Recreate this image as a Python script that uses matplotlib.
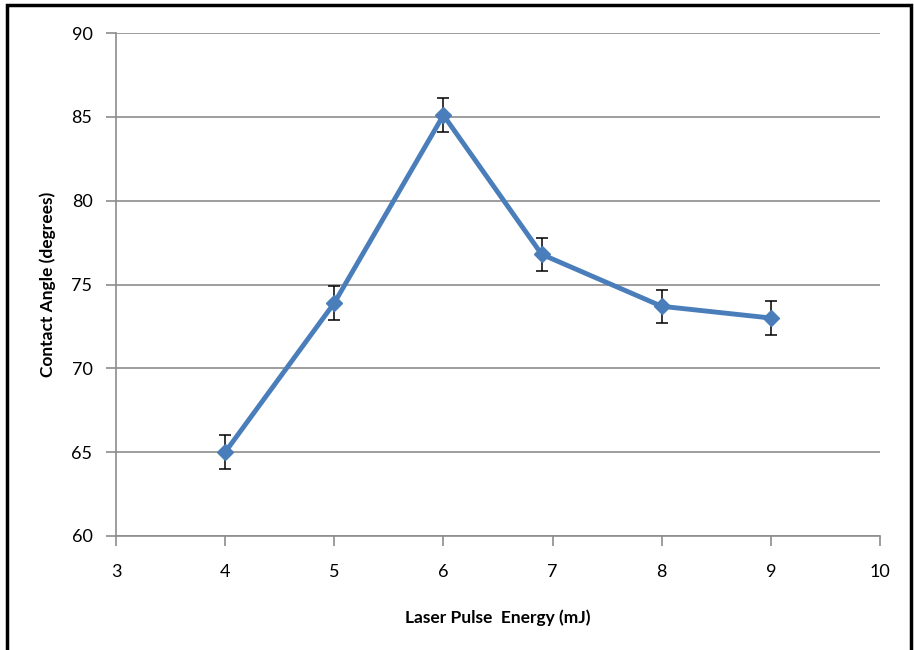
import matplotlib
matplotlib.use("Agg")
import matplotlib.pyplot as plt
from matplotlib.patches import Rectangle

# contact angle vs pulse energy
energy = [4, 5, 6, 6.9, 8, 9]
angle = [65.0, 73.9, 85.1, 76.8, 73.7, 73.0]
err = [1, 1, 1, 1, 1, 1]

x_ticks = [3, 4, 5, 6, 7, 8, 9, 10]
y_ticks = [60, 65, 70, 75, 80, 85, 90]

plt.rcParams["font.family"] = ["Lato", "DejaVu Sans"]

fig = plt.figure(figsize=(9.14, 6.5), dpi=100)
ax = fig.add_axes([116 / 914, 1 - 536 / 650, (880 - 116) / 914, (536 - 33) / 650])

ax.errorbar(energy, angle, yerr=err, color="#4a7ebb", linewidth=3.5,
            marker="D", markersize=8, ecolor="black", elinewidth=1.1,
            capsize=4, capthick=1.1, zorder=3)

ax.set_xlim(3, 10)
ax.set_ylim(60, 90)
ax.set_xticks(x_ticks)
ax.set_yticks(y_ticks)
ax.grid(axis="y", color="#8c8c8c", linewidth=1.2)
ax.set_axisbelow(True)

for side in ["top", "right"]:
    ax.spines[side].set_visible(False)
for side in ["left", "bottom"]:
    ax.spines[side].set_color("#8c8c8c")
    ax.spines[side].set_linewidth(1.2)

ax.tick_params(axis="both", colors="#8c8c8c", labelcolor="black",
               labelsize=13, width=1.2, length=7)
ax.tick_params(axis="x", pad=13)
ax.tick_params(axis="y", pad=10)

ax.set_xlabel("Laser Pulse  Energy (mJ)", fontsize=12.5, fontweight="bold", labelpad=21)
ax.set_ylabel("Contact Angle (degrees)", fontsize=12.5, fontweight="bold", labelpad=11)

# outer frame around the chart
fig.patches.append(Rectangle((7 / 914, -0.1), (911 - 7) / 914, 1.1 - 5 / 650,
                             transform=fig.transFigure, fill=False,
                             edgecolor="black", linewidth=2.5))

fig.savefig("out.png", dpi=100)
